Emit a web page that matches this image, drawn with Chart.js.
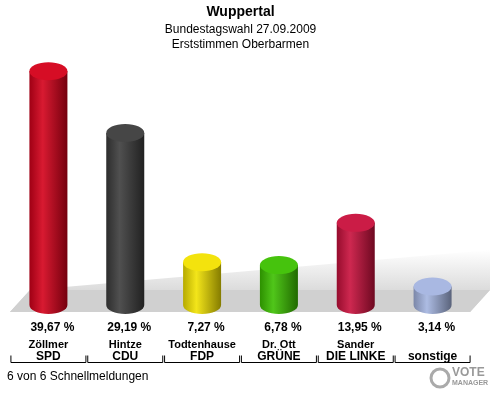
<!DOCTYPE html>
<html><head><meta charset="utf-8">
<script src="https://cdn.jsdelivr.net/npm/chart.js@4"></script>
<style>body{margin:0;background:#fff}#w{width:500px;height:400px;position:relative}</style>
</head><body><div id="w"><canvas id="c" width="500" height="400"></canvas></div>
<script>
const candidates = ['Zöllmer', 'Hintze', 'Todtenhause', 'Dr. Ott', 'Sander', ''];
const parties = ['SPD', 'CDU', 'FDP', 'GRÜNE', 'DIE LINKE', 'sonstige'];
const values = [39.67, 29.19, 7.27, 6.78, 13.95, 3.14];
const colors = ['#d4001a', '#3c3c3c', '#f2e200', '#3cc000', '#c8103c', '#a4b4e0'];

function shade(hex, f) {
  const n = parseInt(hex.slice(1), 16);
  const c = [n >> 16, (n >> 8) & 255, n & 255].map(v => Math.max(0, Math.min(255, Math.round(f < 0 ? v * (1 + f) : v + (255 - v) * f))));
  return 'rgb(' + c.join(',') + ')';
}

const cyl = {
  id: 'cyl',
  beforeDatasetsDraw(chart) {
    const ctx = chart.ctx;
    ctx.save();
    const g = ctx.createLinearGradient(0, 250, 0, 312);
    g.addColorStop(0, '#ffffff'); g.addColorStop(1, '#c8c8c8');
    ctx.fillStyle = g;
    ctx.beginPath();
    ctx.moveTo(10, 312); ctx.lineTo(470, 312); ctx.lineTo(490, 290); ctx.lineTo(490, 250); ctx.lineTo(30, 290); ctx.closePath();
    ctx.fill();
    ctx.fillStyle = '#d0d0d0';
    ctx.beginPath(); ctx.moveTo(10, 312); ctx.lineTo(470, 312); ctx.lineTo(490, 290); ctx.lineTo(30, 290); ctx.closePath(); ctx.fill();
    ctx.restore();
  },
  afterDatasetsDraw(chart) {
    const ctx = chart.ctx;
    const meta = chart.getDatasetMeta(0);
    meta.data.forEach((b, i) => {
      const w = 38, x = b.x, top = b.y, bot = b.base, ry = 9;
      const g = ctx.createLinearGradient(x - w / 2, 0, x + w / 2, 0);
      g.addColorStop(0, shade(colors[i], -0.25));
      g.addColorStop(0.35, shade(colors[i], 0.1));
      g.addColorStop(1, shade(colors[i], -0.45));
      ctx.fillStyle = g;
      ctx.beginPath();
      ctx.moveTo(x - w / 2, top);
      ctx.lineTo(x - w / 2, bot);
      ctx.ellipse(x, bot, w / 2, ry, 0, Math.PI, 0, true);
      ctx.lineTo(x + w / 2, top);
      ctx.closePath(); ctx.fill();
      ctx.fillStyle = shade(colors[i], 0.05);
      ctx.beginPath(); ctx.ellipse(x, top, w / 2, ry, 0, 0, Math.PI * 2); ctx.fill();
      ctx.fillStyle = '#000';
      ctx.textAlign = 'center';
      ctx.font = 'bold 12px "Liberation Sans", Arial';
      ctx.fillText(values[i].toFixed(2).replace('.', ',') + ' %', x + 4, 331);
      ctx.font = 'bold 11px "Liberation Sans", Arial';
      ctx.fillText(candidates[i], x, 348);
      ctx.font = 'bold 12px "Liberation Sans", Arial';
      ctx.fillText(parties[i], x, 360);
      ctx.strokeStyle = '#000'; ctx.lineWidth = 1;
      ctx.beginPath();
      ctx.moveTo(x - 37.5, 355.5); ctx.lineTo(x - 37.5, 362.5); ctx.lineTo(x + 37.5, 362.5); ctx.lineTo(x + 37.5, 355.5);
      ctx.stroke();
    });
    ctx.textAlign = 'left';
    ctx.font = '12px "Liberation Sans", Arial';
    ctx.fillText('6 von 6 Schnellmeldungen', 7, 380);
    ctx.fillStyle = '#999';
    ctx.font = 'bold 12px "Liberation Sans", Arial';
    ctx.fillText('VOTE', 452, 376);
    ctx.font = 'bold 7px "Liberation Sans", Arial';
    ctx.fillText('MANAGER', 452, 385);
    ctx.strokeStyle = '#aaa'; ctx.lineWidth = 3;
    ctx.beginPath(); ctx.arc(440, 378, 9, 0, Math.PI * 2); ctx.stroke();
  }
};

new Chart(document.getElementById('c'), {
  type: 'bar',
  data: { labels: parties, datasets: [{ data: values, backgroundColor: 'rgba(0,0,0,0)', categoryPercentage: 1, barPercentage: 0.49 }] },
  options: {
    responsive: false, animation: false, devicePixelRatio: 1,
    layout: { padding: { left: 10, right: 29, top: 0, bottom: 95 } },
    scales: { x: { display: false }, y: { display: false, min: 0, max: 43 } },
    plugins: {
      legend: { display: false }, tooltip: { enabled: false },
      title: { display: true, text: 'Wuppertal', color: '#000', font: { size: 14, weight: 'bold', family: '"Liberation Sans", Arial' }, padding: { top: 4, bottom: 0 } },
      subtitle: { display: true, text: ['Bundestagswahl 27.09.2009', 'Erststimmen Oberbarmen'], color: '#000', font: { size: 12, family: '"Liberation Sans", Arial' }, padding: { top: 2, bottom: 0 } }
    }
  },
  plugins: [cyl]
});
</script></body></html>
